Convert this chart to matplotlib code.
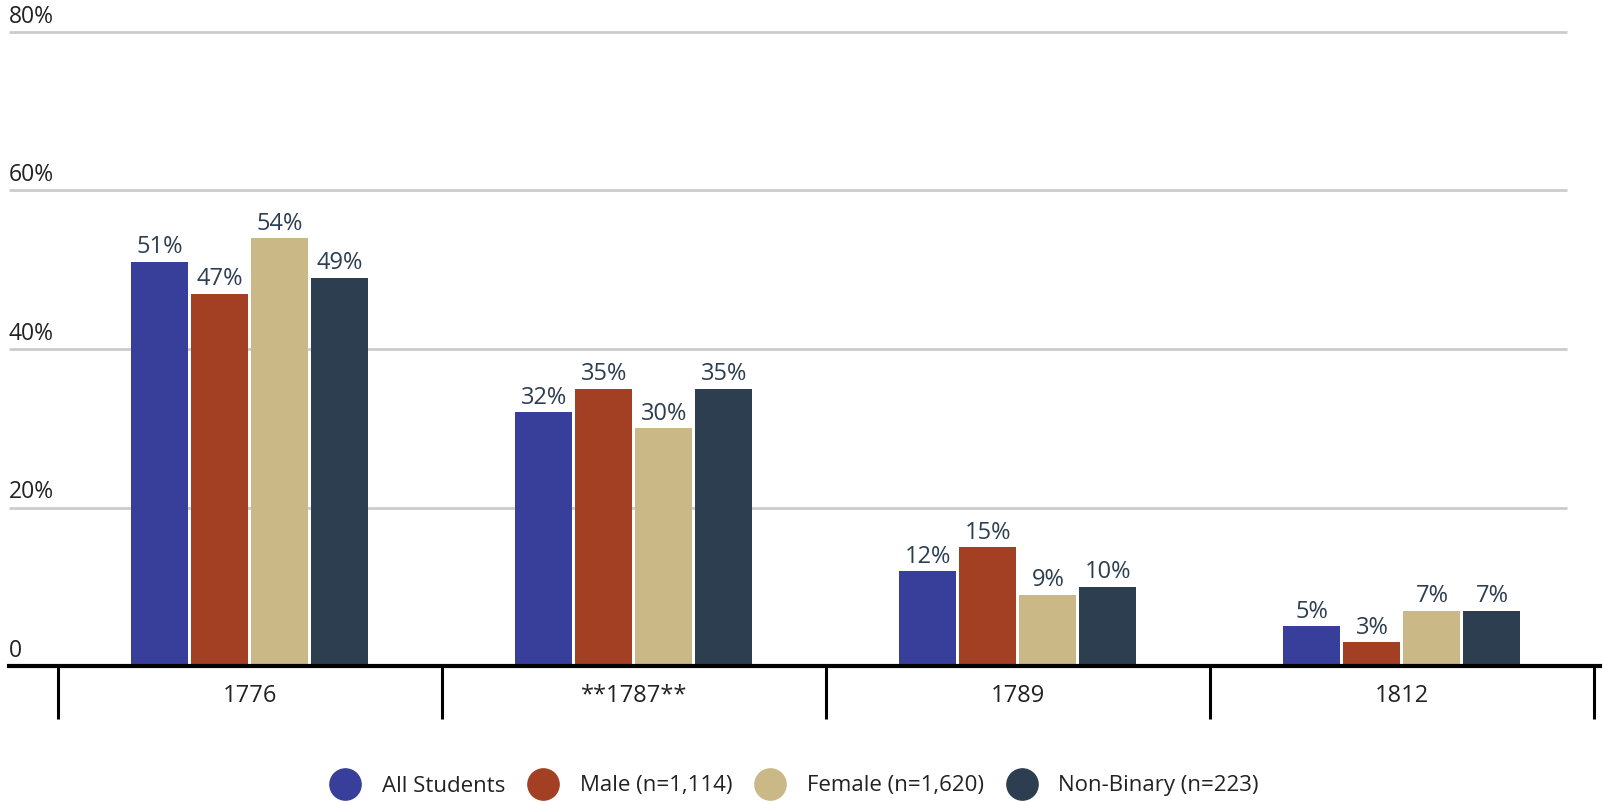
import matplotlib
matplotlib.use("Agg")
import matplotlib.pyplot as plt
from matplotlib.lines import Line2D
import numpy as np

plt.rcParams['font.family'] = ['Open Sans', 'DejaVu Sans']

categories = ["1776", "**1787**", "1789", "1812"]
series_names = ["All Students", "Male (n=1,114)", "Female (n=1,620)", "Non-Binary (n=223)"]
all_students = [51, 32, 12, 5]
male = [47, 35, 15, 3]
female = [54, 30, 9, 7]
non_binary = [49, 35, 10, 7]
colors = ["#373f9b", "#a33f22", "#cab886", "#2d3e50"]
y_ticks = [0, 20, 40, 60, 80]
y_tick_labels = ["0", "20%", "40%", "60%", "80%"]

series = [all_students, male, female, non_binary]

W, H = 1608, 802
fig = plt.figure(figsize=(W / 100, H / 100), dpi=100)
left_px, right_px = 9, 1600
top_px, base_px = 32, 666
ax = fig.add_axes([left_px / W, (H - base_px) / H, (right_px - left_px) / W, (base_px - top_px) / H])

cat_w_px = 384.0
center0_px = 250.0
xmin = (left_px - center0_px) / cat_w_px
xmax = (right_px - center0_px) / cat_w_px
ax.set_xlim(xmin, xmax)
ax.set_ylim(0, 80)
for s in ax.spines.values():
    s.set_visible(False)
ax.set_xticks([])
ax.set_yticks([])

# gridlines
grid_end = (1567 - center0_px) / cat_w_px
ax.hlines([20, 40, 60, 80], xmin, grid_end, colors="#cccccc", linewidth=2.0, zorder=0, clip_on=False)

bar_w = 57 / cat_w_px
step = 60 / cat_w_px
x = np.arange(len(categories))
offsets = (np.arange(4) - 1.5) * step
for i, vals in enumerate(series):
    ax.bar(x + offsets[i], vals, width=bar_w, color=colors[i], zorder=2)
    for xi, v in zip(x + offsets[i], vals):
        ax.annotate(f"{v}%", (xi, v), xytext=(0, 6), textcoords="offset points",
                    ha="center", va="baseline", fontsize=17, color="#2d3e50", zorder=3)

# baseline
ax.axhline(0, color="black", linewidth=3.0, zorder=4, clip_on=False)
# category separators
tick_len = (719 - base_px) / ((base_px - top_px) / 80.0)
ax.vlines(np.arange(len(categories) + 1) - 0.5, -tick_len, 0, colors="black", linewidth=2.2, clip_on=False, zorder=4)
for xi, c in zip(x, categories):
    ax.text(xi, -tick_len * 0.67, c, ha="center", va="baseline", fontsize=17, color="#222222")

# y labels
trans = ax.get_yaxis_transform()
for v, lab in zip(y_ticks, y_tick_labels):
    ax.annotate(lab, (0, v), xycoords=trans, xytext=(0, 6.5), textcoords="offset points",
                ha="left", va="baseline", fontsize=16.5, color="#222222")

handles = [Line2D([0], [0], marker="o", linestyle="none", markersize=22.5, markerfacecolor=c,
                  markeredgecolor=c) for c in colors]
fig.legend(handles, series_names, loc="center", bbox_to_anchor=(0.494, (H - 786) / H), ncol=4,
           frameon=False, fontsize=16, handletextpad=0.95, columnspacing=1.0, handlelength=1.4,
           labelcolor="#222222")

fig.savefig("out.png", dpi=100)
